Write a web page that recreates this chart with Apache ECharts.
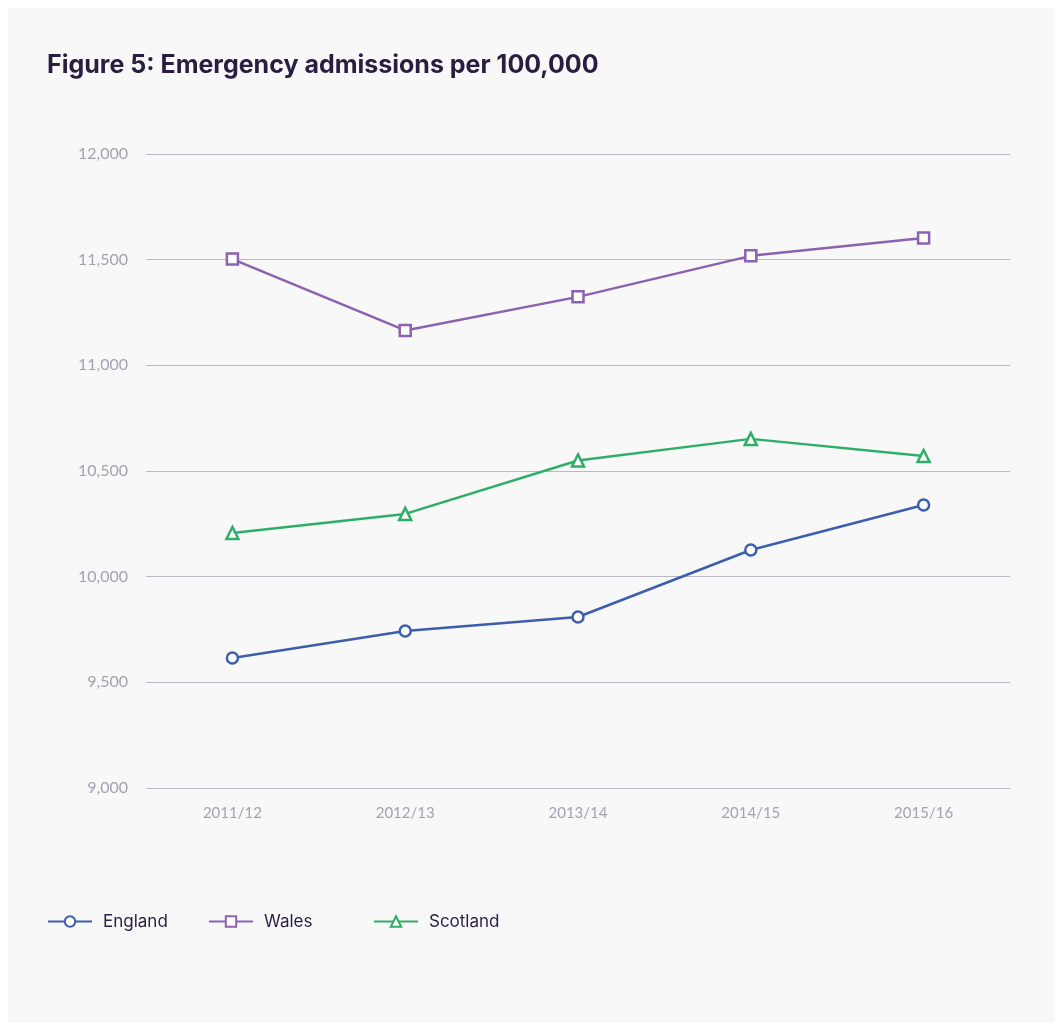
<!DOCTYPE html>
<html><head><meta charset="utf-8">
<script src="https://cdn.jsdelivr.net/npm/echarts@6/dist/echarts.min.js"></script>
<style>
html,body{margin:0;padding:0;background:#ffffff;}
#c{position:absolute;left:8px;top:8px;width:1047px;height:1015px;background:#f8f8f8;}
</style></head><body>
<div id="c"></div>
<script>
const categories = ['2011/12','2012/13','2013/14','2014/15','2015/16'];
const england = [9615, 9743, 9809, 10126, 10339];
const wales = [11503, 11165, 11324, 11518, 11603];
const scotland = [10207, 10297, 10550, 10652, 10571];
const seriesNames = ['England','Wales','Scotland'];
const colors = ['#3d5ead','#8c62b0','#2fae6a'];

const chart = echarts.init(document.getElementById('c'));
const font = 'Lato, "Noto Sans", sans-serif';
const font2 = 'Inter, "Noto Sans", sans-serif';
function mk(name, data, color, symbol, size){
  return {
    name, type:'line', data, symbol, symbolSize:size,
    lineStyle:{color, width:2.5},
    itemStyle:{color:'#ffffff', borderColor:color, borderWidth:2.5},
    emphasis:{disabled:true}
  };
}
const legendLefts = [34, 195, 360];
function lg(i){
  return {left:legendLefts[i], top:900, itemWidth:44, itemHeight:13,
    textStyle:{fontFamily:font2, fontSize:17, color:'#2b1d40', padding:[0,0,0,6]},
    data:[seriesNames[i]]};
}
chart.setOption({
  animation:false,
  title:{text:'Figure 5: Emergency admissions per 100,000', left:34, top:40,
    textStyle:{fontFamily:font2, fontSize:25, fontWeight:'bold', color:'#2b1d40'}},
  grid:{left:138, right:45, top:146, bottom:235, containLabel:false},
  legend:[lg(0), lg(1), lg(2)],
  xAxis:{type:'category', data:categories, boundaryGap:true,
    axisLine:{show:false}, axisTick:{show:false},
    axisLabel:{color:'#a3a3b0', fontFamily:font, fontSize:15, margin:18}},
  yAxis:{type:'value', min:9000, max:12000, interval:500,
    axisLine:{show:false}, axisTick:{show:false},
    splitLine:{lineStyle:{color:'#b9b9c4', width:1.2}},
    axisLabel:{color:'#a3a3b0', fontFamily:font, fontSize:16, margin:18,
      formatter:v=>v.toLocaleString('en-US')}},
  series:[
    mk(seriesNames[0], england, colors[0], 'circle', 11),
    mk(seriesNames[1], wales, colors[1], 'rect', 11),
    mk(seriesNames[2], scotland, colors[2], 'triangle', 12)
  ]
});
</script></body></html>
